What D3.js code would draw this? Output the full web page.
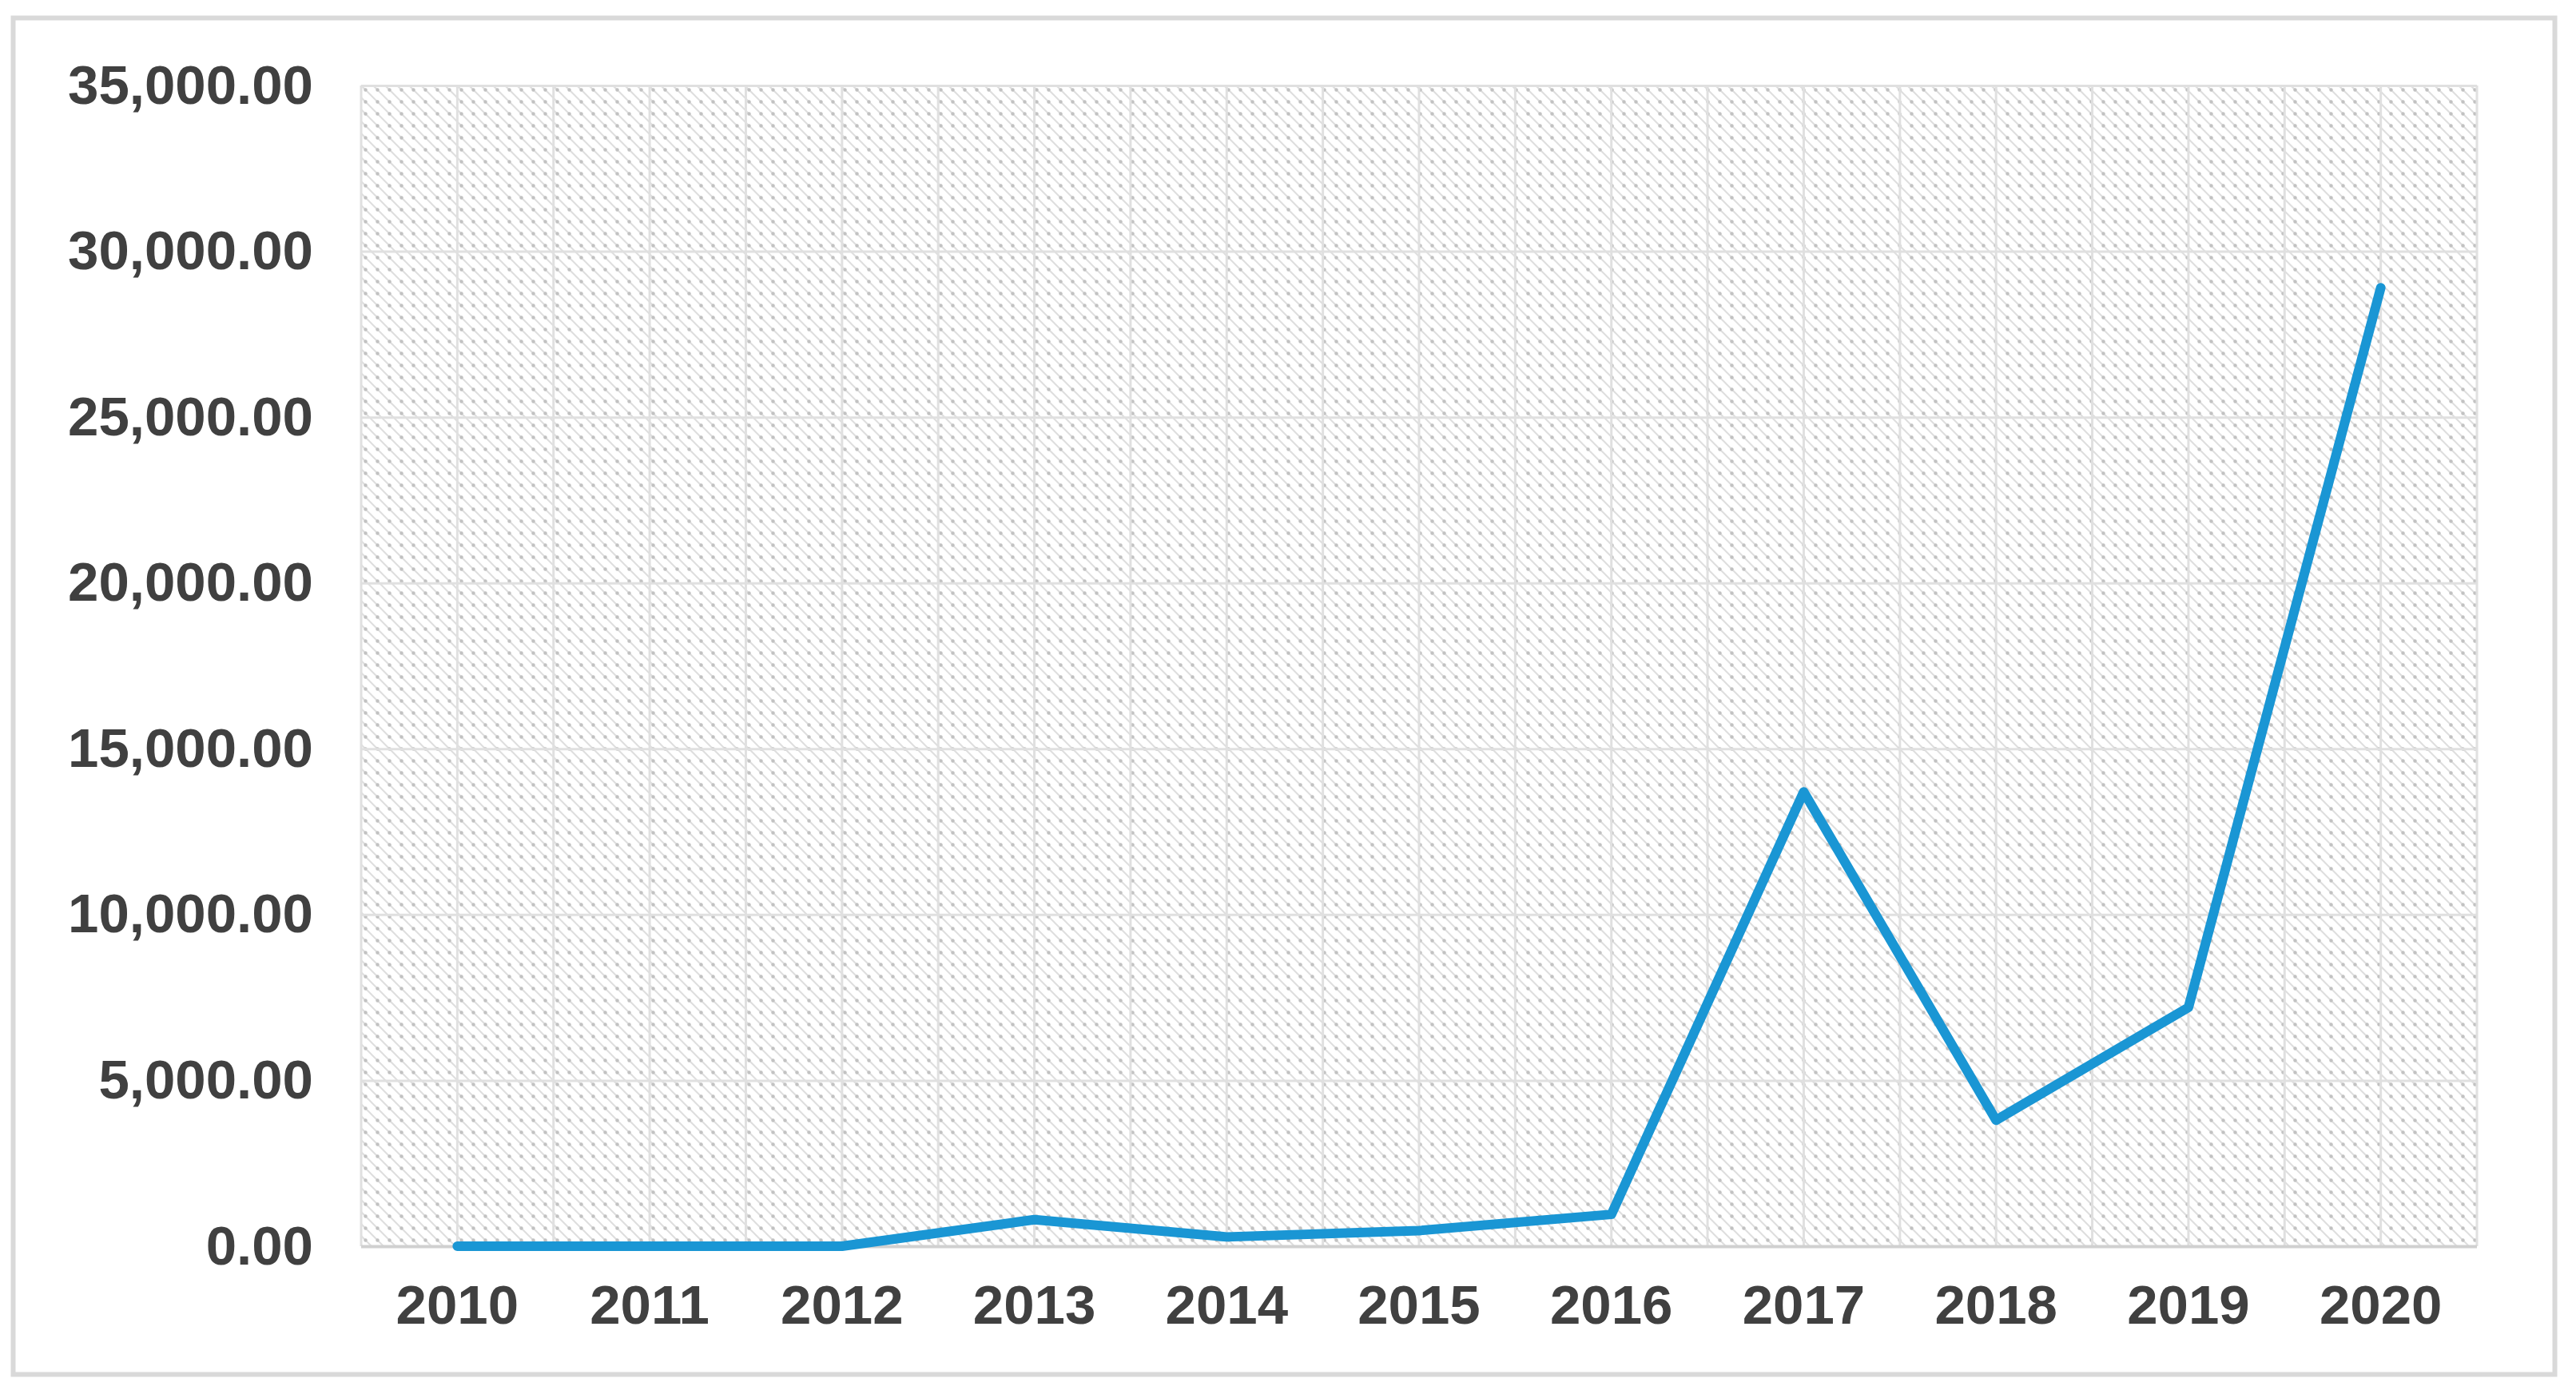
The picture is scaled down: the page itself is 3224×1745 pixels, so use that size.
<!DOCTYPE html>
<html>
<head>
<meta charset="utf-8">
<script src="https://cdn.jsdelivr.net/npm/d3@7"></script>
<style>
  html, body { margin: 0; padding: 0; background: #fff; }
  #chartDiv { width: 3224px; height: 1745px; }
</style>
</head>
<body>
<div id="chartDiv"></div>
<script>
const years = ["2010", "2011", "2012", "2013", "2014", "2015", "2016", "2017", "2018", "2019", "2020"];
const values = [0, 0, 0, 800, 280, 470, 960, 13700, 3800, 7200, 28900];
const yTicks = [0, 5000, 10000, 15000, 20000, 25000, 30000, 35000];

const width = 3224;
const height = 1745;
const margin = {top: 107, right: 124, bottom: 185, left: 452};

const svg = d3.select("#chartDiv").append("svg")
    .attr("width", width)
    .attr("height", height)
    .attr("viewBox", [0, 0, width, height]);

// hatch fill of the plot area
const defs = svg.append("defs");
const tile = 15;
const pat = defs.append("pattern")
    .attr("id", "hatch")
    .attr("patternUnits", "userSpaceOnUse")
    .attr("width", tile)
    .attr("height", tile);
pat.append("rect").attr("width", tile).attr("height", tile).attr("fill", "#fff");
pat.append("path")
    .attr("d", `M-1,-1L${tile + 1},${tile + 1}M-1,${tile - 1}L1,${tile + 1}M${tile - 1},-1L${tile + 1},1`)
    .attr("stroke", "#dedede")
    .attr("stroke-width", 2);
pat.append("circle")
    .attr("cx", tile / 2).attr("cy", tile / 2).attr("r", 2.2)
    .attr("fill", "#c2c2c2");

// outer frame
svg.append("rect")
    .attr("x", 16.5).attr("y", 22.5)
    .attr("width", 3181).attr("height", 1698)
    .attr("fill", "none")
    .attr("stroke", "#d9d9d9")
    .attr("stroke-width", 6);

const x = d3.scaleBand()
    .domain(years)
    .range([margin.left, width - margin.right]);

const y = d3.scaleLinear()
    .domain([0, 35000])
    .range([height - margin.bottom, margin.top]);

svg.append("rect")
    .attr("x", margin.left).attr("y", margin.top)
    .attr("width", x.range()[1] - x.range()[0])
    .attr("height", y(0) - y(35000))
    .attr("fill", "url(#hatch)");

// vertical gridlines: band edges and band centers
const vLines = [];
years.forEach(d => { vLines.push(x(d)); vLines.push(x(d) + x.bandwidth() / 2); });
vLines.push(x.range()[1]);

svg.append("g")
  .selectAll("line")
  .data(vLines)
  .join("line")
    .attr("x1", d => d).attr("x2", d => d)
    .attr("y1", y(35000)).attr("y2", y(0))
    .attr("stroke", "#e0e0e0")
    .attr("stroke-width", 3);

// y axis with horizontal gridlines
const fmt = d3.format(",.2f");
const yAxis = svg.append("g")
    .attr("transform", `translate(${margin.left},0)`)
    .call(d3.axisLeft(y).tickValues(yTicks).tickFormat(fmt)
        .tickSize(-(x.range()[1] - x.range()[0])).tickPadding(60));
yAxis.select(".domain").remove();
yAxis.selectAll(".tick line")
    .attr("stroke", d => d === 0 ? "#d0d0d0" : "#e0e0e0")
    .attr("stroke-width", d => d === 0 ? 4 : 3);
yAxis.selectAll(".tick text")
    .attr("font-family", "'Liberation Sans', Arial, sans-serif")
    .attr("font-weight", "bold")
    .attr("font-size", 69)
    .attr("fill", "#404040");

// x axis labels
const xAxis = svg.append("g")
    .attr("transform", `translate(0,${y(0)})`)
    .call(d3.axisBottom(x).tickSize(0).tickPadding(48));
xAxis.select(".domain").remove();
xAxis.selectAll(".tick text")
    .attr("font-family", "'Liberation Sans', Arial, sans-serif")
    .attr("font-weight", "bold")
    .attr("font-size", 69)
    .attr("fill", "#404040");

// the series line
const line = d3.line()
    .x((d, i) => x(years[i]) + x.bandwidth() / 2)
    .y(d => y(d));

svg.append("path")
    .datum(values)
    .attr("d", line)
    .attr("fill", "none")
    .attr("stroke", "#1a96d4")
    .attr("stroke-width", 12)
    .attr("stroke-linejoin", "round")
    .attr("stroke-linecap", "round");
</script>
</body>
</html>
